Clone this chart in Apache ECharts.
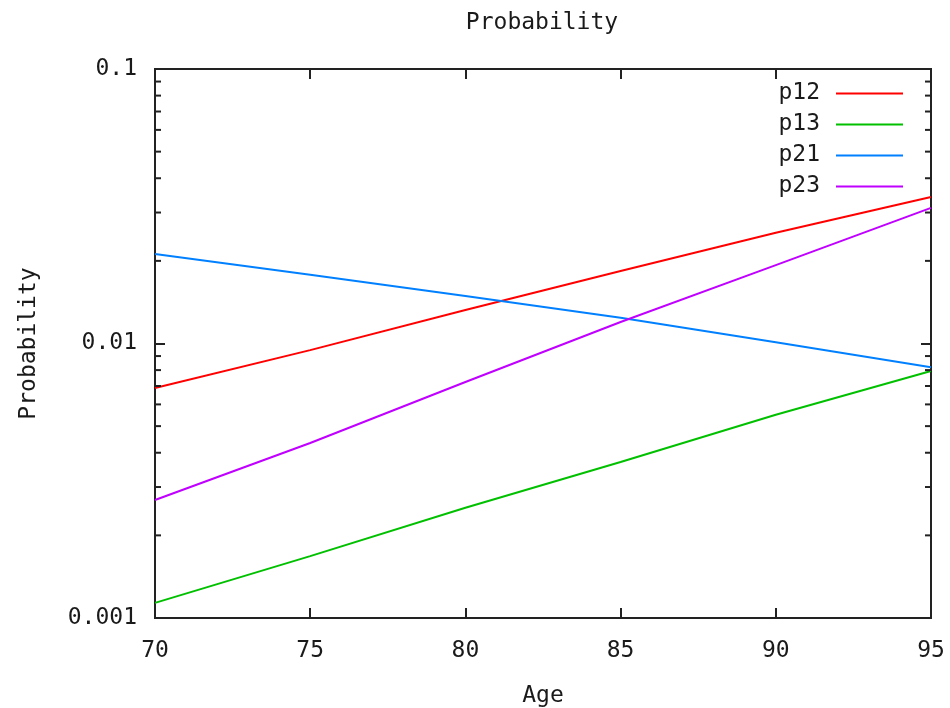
<!DOCTYPE html>
<html>
<head>
<meta charset="utf-8">
<title>Probability</title>
<script src="https://cdn.jsdelivr.net/npm/echarts@6/dist/echarts.min.js"></script>
<style>
  html, body { margin: 0; padding: 0; background: #fff; }
  #chart { width: 950px; height: 708px; }
</style>
</head>
<body>
<div id="chart"></div>
<script>
// Transition probabilities by age (log scale)
const ages = [70, 75, 80, 85, 90, 95];
const p12 = [0.00689, 0.00946, 0.01324, 0.01837, 0.0253, 0.0342];
const p13 = [0.001135, 0.00168, 0.00252, 0.0037, 0.0055, 0.00794];
const p21 = [0.0212, 0.0178, 0.0149, 0.0124, 0.0101, 0.0082];
const p23 = [0.00269, 0.00434, 0.00724, 0.01198, 0.0193, 0.0312];

const seriesNames = ['p12', 'p13', 'p21', 'p23'];
const seriesValues = [p12, p13, p21, p23];
const seriesColors = ['#ff0000', '#00c000', '#0080ff', '#c000ff'];

const yTickLabels = ['0.001', '0.01', '0.1'];
const xTickLabels = ['70', '75', '80', '85', '90', '95'];

const FONT = '"DejaVu Sans Mono", "Liberation Mono", monospace';
const FS = 23;
const INK = '#1a1a1a';

// minor log ticks 2..9 within each decade
const minorTicks = [];
[0.001, 0.01].forEach(d => {
  for (let k = 2; k <= 9; k++) minorTicks.push(+(k * d).toPrecision(3));
});

const chart = echarts.init(document.getElementById('chart'), null, { renderer: 'canvas' });

const lineSeries = seriesNames.map((name, i) => ({
  name: name,
  type: 'line',
  data: ages.map((a, j) => [a, seriesValues[i][j]]),
  showSymbol: false,
  symbol: 'none',
  lineStyle: { color: seriesColors[i], width: 2 },
  itemStyle: { color: seriesColors[i] },
  animation: false,
  z: 3
}));

chart.setOption({
  animation: false,
  backgroundColor: '#ffffff',
  title: {
    text: 'Probability',
    left: 537,
    top: 7,
    textAlign: 'center',
    textStyle: { fontFamily: FONT, fontSize: FS, fontWeight: 'normal', color: INK }
  },
  legend: {
    orient: 'vertical',
    right: 42,
    top: 77,
    align: 'right',
    itemWidth: 67,
    itemHeight: 2,
    itemGap: 8,
    icon: 'rect',
    data: seriesNames,
    textStyle: {
      fontFamily: FONT, fontSize: FS, color: INK, lineHeight: 23,
      padding: [0, 11, 0, 0]
    }
  },
  grid: {
    left: 155, right: 19, top: 69, bottom: 90,
    outerBoundsMode: 'none',
    containLabel: false,
    show: true, borderColor: '#222', borderWidth: 2, backgroundColor: 'transparent'
  },
  xAxis: [{
    type: 'value',
    min: 70, max: 95, interval: 5,
    name: 'Age',
    nameLocation: 'middle',
    nameGap: 67,
    nameTextStyle: { fontFamily: FONT, fontSize: FS, color: INK },
    axisLine: { show: false },
    axisTick: { show: true, inside: true, length: 10, lineStyle: { color: '#222', width: 2 } },
    axisLabel: {
      fontFamily: FONT, fontSize: FS, color: INK, margin: 22,
      formatter: v => xTickLabels[Math.round((v - 70) / 5)] || ''
    },
    splitLine: { show: false }
  }, {
    type: 'value',
    position: 'top',
    min: 70, max: 95, interval: 5,
    axisLine: { show: false },
    axisTick: { show: true, inside: true, length: 10, lineStyle: { color: '#222', width: 2 } },
    axisLabel: { show: false },
    splitLine: { show: false }
  }],
  yAxis: [{
    type: 'log',
    logBase: 10,
    min: 0.001, max: 0.1,
    name: 'Probability',
    nameLocation: 'middle',
    nameGap: 114,
    nameTextStyle: { fontFamily: FONT, fontSize: FS, color: INK },
    axisLine: { show: false },
    axisTick: { show: true, inside: true, length: 10, lineStyle: { color: '#222', width: 2 } },
    axisLabel: {
      fontFamily: FONT, fontSize: FS, color: INK, margin: 18,
      formatter: v => {
        const idx = Math.round(Math.log10(v) + 3);
        return yTickLabels[idx] || '';
      }
    },
    splitLine: { show: false }
  }, {
    type: 'log',
    logBase: 10,
    position: 'right',
    min: 0.001, max: 0.1,
    axisLine: { show: false },
    axisTick: { show: true, inside: true, length: 10, lineStyle: { color: '#222', width: 2 } },
    axisLabel: { show: false },
    splitLine: { show: false }
  }],
  series: lineSeries.concat([{
    name: 'minorTicks',
    type: 'custom',
    xAxisIndex: 0,
    yAxisIndex: 0,
    silent: true,
    clip: false,
    z: 4,
    data: minorTicks.map(v => [70, v]),
    encode: { x: 0, y: 1 },
    renderItem: (params, api) => {
      const v = api.value(1);
      const l = api.coord([70, v]);
      const r = api.coord([95, v]);
      const style = { stroke: '#222', lineWidth: 2 };
      return {
        type: 'group',
        children: [
          { type: 'line', shape: { x1: l[0], y1: l[1], x2: l[0] + 6, y2: l[1] }, style: style },
          { type: 'line', shape: { x1: r[0], y1: r[1], x2: r[0] - 6, y2: r[1] }, style: style }
        ]
      };
    }
  }])
});
</script>
</body>
</html>
